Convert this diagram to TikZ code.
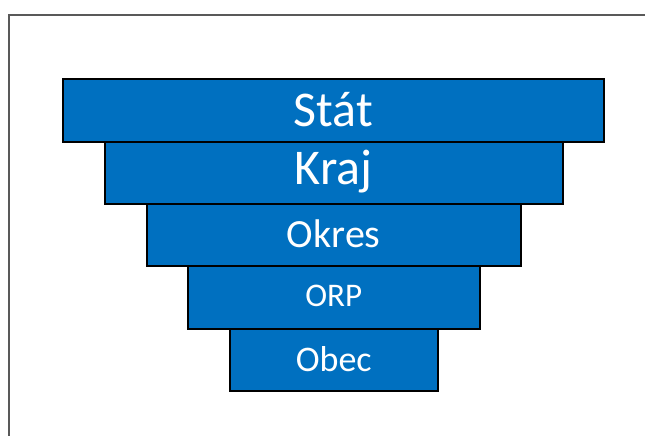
\documentclass[tikz,border=0pt]{standalone}
\usepackage{fontspec}
\setmainfont{Carlito}
\definecolor{tierblue}{HTML}{0070C0}
\begin{document}
\begin{tikzpicture}[x=1pt,y=-1pt,
  tier/.style={draw=black,line width=1.5pt,fill=tierblue,inner sep=0pt,
    text=white,anchor=north west},
  label/.style={text=white,inner sep=0pt},
]
\useasboundingbox (0,0) rectangle (645,436);
% outer frame (runs off the right and bottom edges)
\draw[black!65,line width=1.4pt] (9,436) -- (9,15) -- (645,15);
% stacked tiers, narrowing downwards
\node[tier,minimum width=541pt,minimum height=63pt] (stat)  at (62,78)  {};
\node[tier,minimum width=458pt,minimum height=62pt] (kraj)  at (104,141) {};
\node[tier,minimum width=374pt,minimum height=62pt] (okres) at (146,203) {};
\node[tier,minimum width=292pt,minimum height=63pt] (orp)   at (187,265) {};
\node[tier,minimum width=208pt,minimum height=62pt] (obec)  at (229,328) {};
% labels
\node[label,font=\fontsize{50}{50}\selectfont] at ([yshift=1pt]stat.center)  {Stát};
\node[label,font=\fontsize{50}{50}\selectfont] at ([yshift=1pt]kraj.center)  {Kraj};
\node[label,font=\fontsize{40}{40}\selectfont] at ([yshift=1pt]okres.center) {Okres};
\node[label,font=\fontsize{33}{33}\selectfont] at ([yshift=1pt]orp.center)   {ORP};
\node[label,font=\fontsize{36}{36}\selectfont] at ([yshift=1pt]obec.center)  {Obec};
\end{tikzpicture}
\end{document}
